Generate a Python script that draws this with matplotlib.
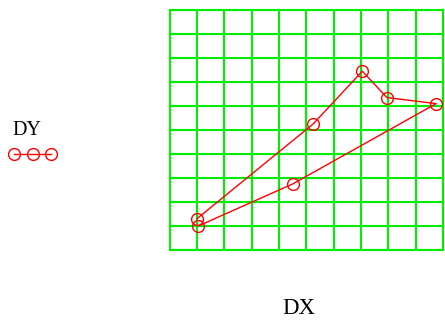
import matplotlib
matplotlib.use("Agg")
import matplotlib.pyplot as plt

# DY against DX
dx = [1.0, 5.25, 7.05, 7.95, 9.75, 4.5, 1.05]
dy = [1.3, 5.25, 7.45, 6.35, 6.1, 2.75, 1.0]
grid_ticks = list(range(0, 11))

plt.rcParams['font.family'] = ['Liberation Serif', 'DejaVu Serif']

fig = plt.figure(figsize=(4.45, 3.22), dpi=100)
ax = fig.add_axes([169.5 / 445, 1 - 250 / 322, 273.5 / 445, 240 / 322])

green = '#00f000'
ax.set_xlim(0, 10)
ax.set_ylim(0, 10)
ax.set_xticks(grid_ticks)
ax.set_yticks(grid_ticks)
ax.tick_params(length=0, labelbottom=False, labelleft=False)
ax.grid(True, color=green, linewidth=1.5)
for s in ax.spines.values():
    s.set_color(green)
    s.set_linewidth(1.5)

line, = ax.plot(dx, dy, color='red', linewidth=1.0, marker='o',
                markersize=8.5, markerfacecolor='none', markeredgecolor='red',
                markeredgewidth=1.0, label='DY', clip_on=False, zorder=3)

# legend sample (three circles) with its caption above it
fig.legend(handles=[line], labels=[''], numpoints=3, handlelength=3.25,
           frameon=False, loc='center left', bbox_to_anchor=(10 / 445, 1 - 155.5 / 322),
           fontsize=10, borderaxespad=0, borderpad=0, handletextpad=0)
fig.text(12 / 445, 1 - 135 / 322, 'DY', fontsize=14.5, ha='left', va='baseline')

fig.text(298.5 / 445, 1 - 308 / 322, 'DX', fontsize=16.5, ha='center', va='center')

fig.savefig('out.png', dpi=100)
